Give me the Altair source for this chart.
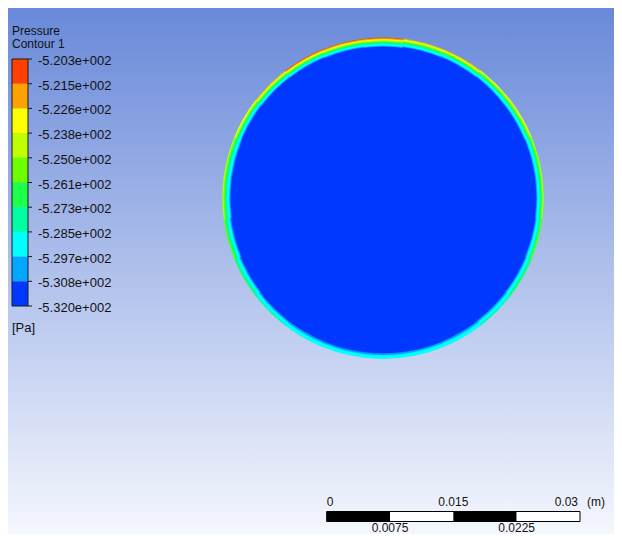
import altair as alt
import pandas as pd
import numpy as np

W, H = 606, 526

# ---------------- data ----------------
legend_title = "Pressure"
legend_subtitle = "Contour 1"
legend_unit = "[Pa]"
level_labels = ["-5.203e+002", "-5.215e+002", "-5.226e+002", "-5.238e+002",
                "-5.250e+002", "-5.261e+002", "-5.273e+002", "-5.285e+002",
                "-5.297e+002", "-5.308e+002", "-5.320e+002"]
band_colors = ["#ff4000", "#ffa200", "#ffff00", "#c0ff00", "#6cff00",
               "#1eff48", "#00ffa2", "#00ffff", "#00a8ff", "#0038ff"]

# pipe cross-section (mm): radius, and wall ring read per 15-degree sector
R_mm = 19.0
sector_deg = list(range(0, 360, 15))          # clockwise from top
outer_band = [0, 1, 1, 2, 2, 3, 3, 4, 5, 6, 7, 7,
              7, 7, 7, 6, 5, 4, 3, 3, 2, 1, 0, 0]
ring_mm = [1.1, 1.0, 0.95, 0.9, 0.9, 0.85, 0.85, 0.8, 0.75, 0.7, 0.65, 0.6,
           0.6, 0.6, 0.65, 0.65, 0.75, 0.85, 0.95, 0.95, 0.9, 0.95, 1.0, 1.05]
band_weight = [1, 1, 1.2, 1, 1, 1, 1, 2, 1]   # relative width of bands 0..8 in the wall ring

# scale bar (m)
bar_edges = [0, 0.0075, 0.015, 0.0225, 0.03]
bar_top_labels = ["0", "0.015", "0.03"]
bar_top_values = [0, 0.015, 0.03]
bar_bottom_labels = ["0.0075", "0.0225"]
bar_bottom_values = [0.0075, 0.0225]

# ---------------- tables ----------------
cells = []
# underlay discs (hide seams between sectors)
cells.append(dict(cx=0.0, cy=0.0, t0=0.0, t1=2 * np.pi, r_in=0.0, r_out=R_mm, band=7))
cells.append(dict(cx=0.0, cy=0.0, t0=0.0, t1=2 * np.pi, r_in=0.0, r_out=R_mm - max(ring_mm), band=9))
half = 7.5
for deg, b, t in zip(sector_deg, outer_band, ring_mm):
    t0 = np.radians(deg - half)
    t1 = np.radians(deg + half)
    wsum = sum(band_weight[b:9])
    r_out = R_mm
    for k in range(b, 9):
        w = t * band_weight[k] / wsum
        cells.append(dict(cx=0.0, cy=0.0, t0=t0, t1=t1, r_in=r_out - w, r_out=r_out, band=k))
        r_out -= w
    cells.append(dict(cx=0.0, cy=0.0, t0=t0, t1=t1, r_in=R_mm - max(ring_mm) - 0.2,
                      r_out=R_mm - t, band=9))
cells_df = pd.DataFrame(cells)

bands_df = pd.DataFrame({"lo": list(range(10)), "hi": list(range(1, 11)), "band": list(range(10))})
labels_df = pd.DataFrame({"idx": list(range(11)), "label": level_labels})

seg_df = pd.DataFrame({"a": bar_edges[:-1], "b": bar_edges[1:],
                       "fill": ["black", "white", "black", "white"]})
top_df = pd.DataFrame({"v": bar_top_values, "label": bar_top_labels})
bot_df = pd.DataFrame({"v": bar_bottom_values, "label": bar_bottom_labels})

FONT = "Liberation Sans"
color_scale = alt.Scale(domain=list(range(10)), range=band_colors)

# ---------------- background ----------------
grad = alt.Gradient(gradient="linear",
                    stops=[alt.GradientStop(offset=0, color="#6989d9"),
                           alt.GradientStop(offset=1, color="#f5f7fe")],
                    x1=0, x2=0, y1=0, y2=1)
bg = alt.Chart(pd.DataFrame({"k": [0]})).mark_rect(fill=grad, strokeWidth=0).encode(
    x=alt.value(0), x2=alt.value(W), y=alt.value(0), y2=alt.value(H))

# ---------------- contour (pipe section) ----------------
px_per_mm = 8.444
cx_px, cy_px = 375.0, 190.0
xdom = [-cx_px / px_per_mm, (W - cx_px) / px_per_mm]
ydom = [-(H - cy_px) / px_per_mm, cy_px / px_per_mm]

contour = alt.Chart(cells_df).mark_arc(strokeWidth=0.4).encode(
    x=alt.X("cx:Q", scale=alt.Scale(domain=xdom, zero=False, nice=False), axis=None),
    y=alt.Y("cy:Q", scale=alt.Scale(domain=ydom, zero=False, nice=False), axis=None),
    theta=alt.Theta("t0:Q", scale=None, stack=None),
    theta2="t1:Q",
    radius=alt.Radius("r_out:Q", scale=alt.Scale(type="linear", domain=[0, 20],
                                                 range=[0, 20 * px_per_mm], zero=True)),
    radius2="r_in:Q",
    color=alt.Color("band:O", scale=color_scale, legend=None),
    stroke=alt.Stroke("band:O", scale=color_scale, legend=None),
)

# ---------------- legend ----------------
ly = alt.Scale(domain=[0, 10], range=[51, 298], zero=False, nice=False)
leg_bands = alt.Chart(bands_df).mark_rect(strokeWidth=0).encode(
    x=alt.value(4), x2=alt.value(20),
    y=alt.Y("lo:Q", scale=ly, axis=None), y2="hi:Q",
    color=alt.Color("band:O", scale=color_scale, legend=None))
leg_frame = alt.Chart(pd.DataFrame({"lo": [0], "hi": [10]})).mark_rect(
    fill=None, fillOpacity=0, stroke="#1a1a1a", strokeWidth=1).encode(
    x=alt.value(4), x2=alt.value(20),
    y=alt.Y("lo:Q", scale=ly, axis=None), y2="hi:Q")
leg_ticks = alt.Chart(labels_df).mark_rule(color="#1a1a1a", strokeWidth=1).encode(
    x=alt.value(20), x2=alt.value(24),
    y=alt.Y("idx:Q", scale=ly, axis=None))
leg_labels = alt.Chart(labels_df).mark_text(
    align="left", baseline="middle", font=FONT, fontSize=13, color="#111111", dy=2).encode(
    x=alt.value(30), y=alt.Y("idx:Q", scale=ly, axis=None), text="label:N")

def txt(s, x, y, size):
    return alt.Chart(pd.DataFrame({"t": [s]})).mark_text(
        align="left", baseline="middle", font=FONT, fontSize=size, color="#111111").encode(
        x=alt.value(x), y=alt.value(y), text="t:N")

title1 = txt(legend_title, 4, 22.5, 12)
title2 = txt(legend_subtitle, 4, 35.5, 12)
unit = txt(legend_unit, 4, 320, 13)

# ---------------- scale bar ----------------
BAR_T, BAR_B = 503.5, 513.5
TOP_Y, BOT_Y = 494, 519.5
bx = alt.Scale(domain=[0, 0.03], range=[318.7, 572], zero=False, nice=False)
segs = alt.Chart(seg_df).mark_rect(strokeWidth=0).encode(
    x=alt.X("a:Q", scale=bx, axis=None), x2="b:Q",
    y=alt.value(BAR_T), y2=alt.value(BAR_B),
    fill=alt.Fill("fill:N", scale=None))
frame = alt.Chart(pd.DataFrame({"a": [0], "b": [0.03]})).mark_rect(
    fill=None, fillOpacity=0, stroke="black", strokeWidth=1).encode(
    x=alt.X("a:Q", scale=bx, axis=None), x2="b:Q",
    y=alt.value(BAR_T), y2=alt.value(BAR_B))
top0 = alt.Chart(top_df.iloc[[0]]).mark_text(align="left", baseline="middle", font=FONT,
                                              fontSize=12, color="#111111").encode(
    x=alt.X("v:Q", scale=bx, axis=None), y=alt.value(TOP_Y), text="label:N")
top1 = alt.Chart(top_df.iloc[[1]]).mark_text(align="center", baseline="middle", font=FONT,
                                              fontSize=12, color="#111111").encode(
    x=alt.X("v:Q", scale=bx, axis=None), y=alt.value(TOP_Y), text="label:N")
top2 = alt.Chart(top_df.iloc[[2]]).mark_text(align="right", baseline="middle", font=FONT,
                                              fontSize=12, color="#111111", dx=-2).encode(
    x=alt.X("v:Q", scale=bx, axis=None), y=alt.value(TOP_Y), text="label:N")
unit_m = alt.Chart(top_df.iloc[[2]]).mark_text(align="left", baseline="middle", font=FONT,
                                                fontSize=12, color="#111111", dx=7).encode(
    x=alt.X("v:Q", scale=bx, axis=None), y=alt.value(TOP_Y), text=alt.value("(m)"))
bots = alt.Chart(bot_df).mark_text(align="center", baseline="middle", font=FONT,
                                   fontSize=12, color="#111111").encode(
    x=alt.X("v:Q", scale=bx, axis=None), y=alt.value(BOT_Y), text="label:N")

chart = alt.layer(
    bg, contour, leg_bands, leg_frame, leg_ticks, leg_labels, title1, title2, unit,
    segs, frame, top0, top1, top2, unit_m, bots
).resolve_scale(x="independent", y="independent", color="independent",
                stroke="independent").properties(
    width=W, height=H, padding=0, autosize=alt.AutoSizeParams(type="none")
).configure_view(strokeWidth=0)

chart.save("out.html", embed_options={"renderer": "svg", "actions": False})
